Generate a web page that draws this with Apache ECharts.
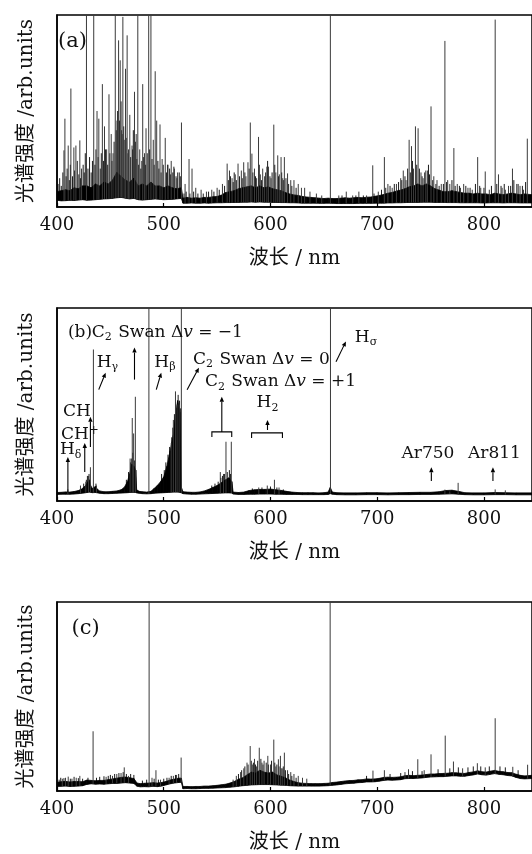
<!DOCTYPE html>
<html>
<head>
<meta charset="utf-8">
<script src="https://cdn.jsdelivr.net/npm/echarts@6/dist/echarts.min.js"></script>
<style>html,body{margin:0;padding:0;background:#fff}#main{width:532px;height:854px}</style>
</head>
<body>
<div id="main"></div>
<script>
// continuum band of each spectrum: [wavelength nm, lower edge, upper edge] (arb. units, 0-100 = frame)
var specA = [[400,3.5,8],[404,3.2,8.5],[408,3.3,9],[412,3.5,8.5],[416,3.4,10],[420,3.6,9.5],[424,3.8,11],[428,3.5,11],[432,3.6,10],[436,3.8,12],[440,4.0,11],[444,4.2,13],[448,4.3,12],[452,4.5,14],[456,4.8,18],[460,5.0,16],[464,4.6,14],[468,4.2,13],[472,4.5,15],[476,3.8,11],[480,3.6,12],[484,3.8,11],[488,4.0,13],[492,4.2,11],[496,4.0,11],[500,3.8,10],[504,3.9,11],[508,4.0,10],[512,4.2,9.5],[516.5,4.5,10],[518,2.0,4.6],[522,2.0,5],[526,2.1,4.6],[530,2.0,4.8],[534,2.0,4.6],[538,2.1,5],[542,2.0,5],[546,2.1,5.3],[550,2.2,5.5],[554,2.2,6.2],[558,2.3,7.5],[562,2.3,8],[566,2.4,8.5],[570,2.4,9.5],[574,2.5,10],[578,2.5,10.5],[582,2.6,11],[586,2.5,10],[590,2.6,11],[594,2.5,10],[598,2.5,10.5],[602,2.4,9.5],[606,2.4,9],[610,2.3,8.5],[614,2.3,7.5],[618,2.2,6.8],[622,2.2,6.3],[626,2.1,6],[630,2.0,5.5],[634,2.0,5.2],[638,2.0,5],[642,2.0,4.8],[646,1.9,4.6],[650,1.9,4.4],[654,2.0,4.6],[658,1.9,4.4],[662,1.8,4.4],[666,1.8,4.6],[670,1.8,4.8],[674,1.8,4.6],[678,1.8,4.8],[682,1.9,5],[686,1.9,4.8],[690,1.9,5.1],[694,1.9,5.2],[698,2.0,5.6],[702,2.0,6],[706,2.0,6.5],[710,2.1,7.2],[714,2.1,7.6],[718,2.2,8.3],[722,2.2,8.8],[726,2.3,9.5],[730,2.4,10.5],[734,2.4,11],[738,2.4,12],[742,2.5,11],[746,2.5,12],[750,2.5,11],[754,2.4,9.5],[758,2.4,8.8],[762,2.4,8],[766,2.3,8],[770,2.3,8.5],[774,2.3,8],[778,2.2,7.6],[782,2.2,7.2],[786,2.2,7.2],[790,2.2,6.8],[794,2.2,7.2],[798,2.1,6.8],[802,2.1,6.8],[806,2.2,6.4],[810,2.2,7.2],[814,2.2,6.8],[818,2.1,6.4],[822,2.2,6.8],[826,2.2,7.2],[830,2.2,6.8],[834,2.1,6.4],[838,2.1,6.8],[845,2.1,6.4]];
var specB = [[400,3.4,4.4],[404,3.5,4.5],[408,3.5,4.7],[412,3.5,4.6],[416,3.6,4.9],[420,3.8,5.4],[423,4.0,6.2],[426,4.2,7.5],[428,4.4,9],[430,4.6,11],[431.5,4.5,8],[433,4.3,6.5],[436,4.4,7.5],[438,4.2,6],[440,4.0,5.2],[444,3.8,4.8],[448,3.8,4.8],[452,3.9,5],[456,4.0,5.2],[460,4.1,5.8],[463,4.2,7],[466,4.3,10],[468,4.4,14],[470,4.5,19],[472,4.5,18],[473.8,4.4,16],[474.6,4.2,5.8],[477,4.0,5],[480,3.8,4.8],[484,3.7,4.6],[488,3.8,5],[491,4.0,6.5],[494,4.1,8],[497,4.2,10],[500,4.3,12.5],[503,4.4,18],[506,4.5,26],[509,4.6,34],[511,4.6,44],[513,4.6,52],[515,4.5,46],[516.6,4.2,7],[518,3.8,4.8],[522,3.6,4.6],[526,3.5,4.5],[530,3.5,4.5],[534,3.6,4.7],[538,3.7,5.2],[542,3.8,6],[546,3.9,7],[550,4.0,8],[554,4.1,9.5],[558,4.2,11],[561,4.2,12],[563.8,4.1,10],[565,3.6,4.6],[570,3.4,4.4],[575,3.4,4.6],[580,3.5,5.4],[585,3.5,5.8],[590,3.6,6],[595,3.6,6],[600,3.6,6.2],[605,3.5,5.8],[610,3.5,5.5],[615,3.4,5],[620,3.4,4.6],[625,3.4,4.4],[630,3.3,4.3],[635,3.3,4.3],[640,3.3,4.3],[645,3.3,4.2],[650,3.3,4.3],[654,3.4,4.6],[656,3.8,7],[658,3.5,4.6],[662,3.3,4.3],[670,3.2,4.2],[680,3.2,4.2],[690,3.3,4.3],[700,3.3,4.3],[710,3.2,4.2],[720,3.3,4.3],[730,3.3,4.4],[740,3.4,4.5],[750,3.4,4.5],[758,3.5,4.8],[764,3.6,5.4],[770,3.7,5.6],[776,3.5,5],[782,3.3,4.3],[790,3.2,4.2],[800,3.2,4.2],[810,3.3,4.4],[820,3.3,4.3],[830,3.2,4.2],[845,3.2,4.2]];
var specC = [[400,2.4,4.6],[404,2.5,4.9],[408,2.6,5.1],[412,2.4,4.8],[416,2.5,5],[420,2.6,5],[424,2.8,4.9],[428,3.5,5.8],[432,3.8,5.6],[436,3.6,5.4],[440,3.7,5.6],[444,3.6,5.6],[448,3.8,6],[452,4.0,6.4],[456,4.0,6.8],[460,4.2,7.2],[464,4.4,7.4],[468,4.2,7],[472,4.0,6.6],[475,2.5,4.2],[478,2.2,3.9],[482,2.3,4.1],[486,2.2,4.2],[490,2.5,4.4],[494,2.3,4.2],[498,2.6,4.5],[502,3.2,5],[506,3.8,5.8],[510,4.2,6.3],[514,4.5,6.8],[516.5,4.6,6.8],[518,1.2,2.4],[522,1.3,2.4],[526,1.2,2.3],[530,1.2,2.4],[534,1.3,2.4],[538,1.4,2.6],[542,1.4,2.6],[546,1.5,2.8],[550,1.6,3],[554,1.7,3.3],[558,1.8,3.6],[562,2.0,4.2],[566,2.2,5],[570,2.5,6.2],[574,2.8,7],[578,3.0,8.5],[582,3.2,10],[586,3.3,9.5],[590,3.4,11],[594,3.4,10],[598,3.4,9.5],[602,3.3,10],[606,3.2,8.5],[610,3.1,7.8],[614,3.0,7],[618,2.8,5.8],[622,2.7,5],[626,2.6,4.4],[630,2.6,4.1],[634,2.6,4],[638,2.6,3.9],[642,2.6,3.9],[646,2.6,3.9],[650,2.7,4],[654,2.8,4.1],[658,3.0,4.5],[662,3.2,4.7],[666,3.5,5],[670,3.8,5.3],[674,4.0,5.5],[678,4.1,5.6],[682,4.4,5.9],[686,4.5,6],[690,4.8,6.4],[694,4.8,6.3],[698,4.9,6.4],[702,5.2,6.7],[706,5.6,7.2],[710,5.8,7.3],[714,5.7,7.2],[718,5.8,7.3],[722,6.0,7.5],[726,6.5,8.1],[730,6.6,8.3],[734,6.6,8.1],[738,6.8,8.3],[742,6.9,8.4],[746,7.2,8.7],[750,7.4,9],[754,7.5,9],[758,7.6,9.2],[762,7.6,9.3],[766,7.8,9.4],[770,8.0,9.7],[774,8.0,9.6],[778,7.8,9.4],[782,7.8,9.3],[786,8.2,9.8],[790,8.5,10.1],[794,9.0,10.7],[798,8.6,10.2],[802,8.4,10],[806,8.8,10.5],[810,9.2,10.9],[814,8.8,10.4],[818,8.6,10.2],[822,8.2,9.8],[826,8.0,9.7],[830,7.2,8.9],[834,6.6,8.3],[838,6.4,8],[845,6.6,8.3]];

// emission lines: [wavelength nm, peak height] (values above 100 run off the frame)
var linesA = [[406.5,29.5],[407.4,46],[410.5,32],[413,61.7],[415.8,31],[417.7,32],[421.4,34.7],[423,20],[427.6,130],[434.4,130],[437.5,50],[439.2,46],[442.5,64],[444.5,42],[446.5,30],[448.7,58.7],[450.8,38],[452.5,28],[454.6,130],[456.2,45],[457.7,86.8],[459.2,76.4],[460.5,40],[461.7,99],[463,35],[464.2,72],[465.7,89.4],[467,30],[468.2,48],[470.3,32],[472.6,60],[474.2,38],[475.7,130],[477.5,30],[480.3,64],[482,28],[483.4,41],[485.9,130],[488,130],[490.2,35],[492,70.7],[493.4,45],[496.5,43],[498.5,25],[501.4,36],[504,22],[507,24],[510,20],[513,18],[516.6,44],[520,12],[523.7,25],[526.5,20],[530,10],[535,9],[540,8],[545,9],[550,10],[555,12],[559.4,22.6],[561.6,19],[564,15],[567,17],[569.6,22.6],[572.7,19],[574.9,23.3],[577,16],[578.9,23.3],[581.1,44],[582.6,27.8],[585,20],[587,15],[588.8,36.5],[590.5,17],[592.7,20],[594.5,16],[596.6,21],[598.1,21],[600.5,15],[603.1,42.9],[605,18],[606.8,26.9],[608.3,17],[609.9,26],[611.5,15],[613,26],[616,17.5],[619,14],[622,14],[626,12],[629,10],[632,10],[637,8],[643,7],[648,6],[656.1,130],[664,6],[671,8],[677,6],[682.8,8],[690,6],[695.8,21.7],[701,8],[706.7,26],[710,12],[714,10],[718,12],[722,15],[724.4,19],[727,14],[729.9,35],[732.1,31.7],[734,20],[735.8,42],[738.3,41],[741,18],[743,15],[745.5,19],[747,19],[750.4,52.4],[753,16],[756,14],[760,12],[763.4,86.5],[766,14],[768,12],[771.8,30.7],[775,12],[778,10],[781,12],[785,10],[789,9],[794.1,26],[797,10],[801.2,18.5],[805,9],[810.5,97.6],[813.6,17],[817,10],[820,9],[823,11],[826.7,20],[830.7,12],[833.8,11],[837,9],[840.6,35.6]];
var linesB = [[410.2,6],[422,8],[427,10],[429.5,13],[431.3,17.5],[434.1,78.5],[437,8],[468.5,22],[470.5,43],[471.8,35],[473.4,54],[486.1,130],[507,30],[509,42],[511,56.8],[512.5,50],[514.4,50],[516.5,130],[553,15],[556,14],[558.3,30.7],[563.3,30.7],[589,7],[597,8],[603.7,11],[608,7],[656.2,130],[763.4,5.9],[768,5],[775.8,9.4],[810.5,6],[820,5.5]];
var linesC = [[405,6.5],[408,7],[410.5,7.6],[414,6.5],[418,7],[421.4,8],[433.8,31.6],[446,7.5],[452,8],[456,9],[460,9.5],[463,12.5],[467,8],[486.3,130],[489,7],[492.7,11],[497,6],[505,7],[509,8],[512,8.5],[516.3,17.7],[565,6],[568,8],[572,10],[575,12],[578,15],[581,23.8],[583,14],[585,17],[587,13],[589.5,22.9],[592,15],[594,16],[597.5,18.6],[600,14],[603.1,27.2],[605,13],[607.4,16.8],[609.3,18.6],[611,12],[613,20.3],[616,11],[619,10],[622,9],[626,8],[630,7],[634,6.5],[655.9,130],[696,10.8],[706.7,11],[726,10],[729.3,11.5],[738,16.8],[744,11],[750.4,19.4],[763.7,29.3],[771.4,15.6],[780,12],[793.8,14.7],[801.2,12.5],[810.5,38.5],[827,12.8],[840.9,13.9]];

// dense short black spikes of the noise: [wavelength nm, peak height]
var noiseA = [[401,12],[402.5,15],[404,11],[405.5,18],[408.5,16],[409.5,20],[411.5,14],[412.5,22],[414.5,16],[416.5,19],[419,24],[420.5,17],[422,15],[424.5,22],[425.5,18],[426.5,28],[429,20],[430.5,26],[432,18],[433.2,24],[435.5,22],[436.5,30],[438.5,26],[440.5,20],[441.5,28],[443.5,24],[445.5,30],[447.5,22],[449.5,28],[451.5,24],[453.5,34],[455.5,40],[456.8,50],[458.5,45],[460,55],[461,38],[462.5,42],[464.8,36],[466.5,28],[469,26],[470.8,30],[471.5,40],[473.4,34],[474.8,25],[476.5,22],[478.5,20],[479.5,24],[481.2,26],[483,22],[484.5,28],[486.8,30],[489,25],[491,22],[494.5,24],[495.5,20],[497.5,18],[499.5,22],[502.5,18],[503.5,22],[505.5,20],[506.5,17],[508.5,18],[509.5,21],[511.5,16],[512.5,15],[514.5,18],[515.5,16],[519,7],[521,8],[524.5,7],[528,8],[532,7],[537,7],[542,8],[547,8],[552,9],[557,11],[560.5,14],[562.5,16],[565,13],[566,18],[568,14],[571,16],[573.5,15],[576,18],[580,20],[583.5,18],[586,16],[589.5,22],[591.5,14],[595.5,18],[597.3,24],[599.5,16],[601.5,18],[604,22],[607.5,16],[610.5,18],[612,14],[614.5,15],[617,12],[620,11],[624,10],[667,6],[680,6],[687,6],[697,7],[704,9],[708,10],[712,11],[716,12],[720,13],[723,14],[726,16],[728.5,20],[731,18],[733,24],[737,22],[739.5,20],[742,16],[744.5,18],[748,22],[749,17],[752,14],[755,12],[758,11],[762,12],[765,13],[770,14],[773,11],[777,11],[783,11],[787,10],[792,12],[796,11],[800,10],[807,11],[812,12],[816,11],[819,12],[825,11],[828,14],[832,12],[836,11],[839,13]];
var noiseB = [[425,9],[427.5,11],[428.5,13],[430,14],[436.5,9],[465,11],[467,15],[469,20],[470,22],[471,25],[472.5,21],[498,14],[500.5,16],[502,20],[504,24],[505.5,28],[507.5,33],[508.5,38],[510,45],[511.8,48],[513.5,55],[514.8,52],[515.8,48],[545,8],[548,9],[551,10],[553.5,12],[555,13],[557,14],[559.5,15],[561.5,16],[562.5,14],[583,6.5],[592,7],[600,7.5],[606,7],[612,6]];
var noiseC = [[402,6],[403.5,7],[406.5,6.8],[412.5,6.5],[416,7.5],[420,6.8],[424,6.5],[429,7],[437,7],[440,7.5],[444,7.8],[448,8],[450,8.5],[454,9],[458,9.5],[462,10],[465,9],[469,9],[472,8.5],[480,5.5],[484,6],[491,6.5],[495,6],[500,6.5],[503,7],[507,8],[511,8.5],[514,9],[570,9],[573,11],[576,13],[579,14],[582,16],[584,15],[586,14],[588,16],[591,17],[593,14],[596,15],[598,14],[601,16],[604,15],[606,14],[608,13],[610,12],[612,13],[614,11],[617,9],[620,8],[624,7],[690,8],[712,9],[722,9.5],[733,10.5],[742,10.5],[757,11.5],[768,12],[776,12.5],[785,12.5],[790,13],[797,13],[805,13],[815,13],[820,12.5],[832,11]];

// annotations: [wavelength, value, text]
var textsA = [[400.9, 86.3, '(a)']];
var textsC = [[413.7, 85.9, '(c)']];
var textsB = [
  [410.2, 87.3, '(b)'],
  [432.6, 87.3, 'C{s|2} Swan Δ{i|v} = −1'],
  [437.2, 71.7, 'H{s|γ}'],
  [491.2, 71.7, 'H{s|β}'],
  [527.4, 73.3, 'C{s|2} Swan Δ{i|v} = 0'],
  [538.6, 61.8, 'C{s|2} Swan Δ{i|v} = +1'],
  [405.6, 46.2, 'CH'],
  [403.7, 34.2, 'CH{u|+}'],
  [402.8, 26.4, 'H{s|δ}'],
  [587.0, 50.9, 'H{s|2}'],
  [679.0, 84.7, 'H{s|σ}'],
  [722.8, 24.8, 'Ar750'],
  [785.1, 24.8, 'Ar811']
];
// arrows: [from wl, from value, to wl, to value]
var arrowsB = [
  [439.1, 57.7, 445.6, 66.5],
  [472.6, 62.9, 472.6, 79.5],
  [493.0, 57.7, 497.7, 66.5],
  [521.9, 57.7, 533.0, 69.1],
  [661.4, 72.2, 670.7, 82.7],
  [410.2, 4.5, 410.2, 22.8],
  [426.0, 15.0, 426.0, 30.0],
  [431.3, 28.0, 431.3, 43.6],
  [554.4, 35.8, 554.4, 54.0],
  [597.2, 36.8, 597.2, 42.0],
  [750.7, 10.3, 750.7, 17.5],
  [808.4, 10.3, 808.4, 17.5]
];
// brackets: [start wl, end wl, value]
var bracketsB = [[545.1, 563.7, 35.8], [582.3, 611.2, 35.3]];

var serif = '"DejaVu Serif", "Noto Sans CJK SC", serif';
var rich = {
  s: {fontSize: 11, fontFamily: serif, verticalAlign: 'bottom', lineHeight: 11, padding: [0, 1, 0, 0], fill: '#111'},
  u: {fontSize: 12, fontFamily: serif, verticalAlign: 'top', lineHeight: 12, fill: '#111'},
  i: {fontSize: 17, fontFamily: serif, fontStyle: 'italic', fill: '#111'}
};

function baseAt(spec, wl) {
  for (var i = 1; i < spec.length; i++) {
    if (spec[i][0] >= wl) {
      var a = spec[i - 1], b = spec[i];
      var t = (wl - a[0]) / (b[0] - a[0]);
      return a[1] + t * (b[1] - a[1]);
    }
  }
  return spec[spec.length - 1][1];
}

function stickSeries(p, spec, data, color, width) {
  return {
    type: 'custom', xAxisIndex: p, yAxisIndex: p, clip: true, silent: true,
    data: data,
    renderItem: function (params, api) {
      var wl = api.value(0);
      var p0 = api.coord([wl, baseAt(spec, wl)]);
      var p1 = api.coord([wl, Math.min(api.value(1), 101)]);
      return {type: 'line', shape: {x1: p0[0], y1: p0[1], x2: p1[0], y2: p1[1]},
        style: {stroke: color, lineWidth: width}};
    }
  };
}

function spectrumSeries(p, spec, lines, noise) {
  return [{
    // continuum band: one filled quad between each pair of neighbouring samples
    type: 'custom', xAxisIndex: p, yAxisIndex: p, clip: true, silent: true,
    dimensions: ['wl', 'lo', 'hi'], encode: {x: 0, y: [1, 2]},
    data: spec,
    renderItem: function (params, api) {
      var i = params.dataIndex;
      if (i >= spec.length - 1) return null;
      var a = spec[i], b = spec[i + 1];
      var pts = [api.coord([a[0], a[1]]), api.coord([b[0], b[1]]), api.coord([b[0], b[2]]), api.coord([a[0], a[2]])];
      return {type: 'polygon', shape: {points: pts}, style: {fill: '#000', stroke: '#000', lineWidth: 0.8}};
    }
  },
  stickSeries(p, spec, noise, '#000', 0.9),
  stickSeries(p, spec, lines, '#3a3a3a', 1)];
}

function textSeries(p, texts, size) {
  return {
    type: 'custom', xAxisIndex: p, yAxisIndex: p, silent: true, z: 5,
    data: texts.map(function (t) { return [t[0], t[1]]; }),
    renderItem: function (params, api) {
      var pt = api.coord([api.value(0), api.value(1)]);
      return {type: 'text', x: pt[0], y: pt[1], style: {
        text: texts[params.dataIndex][2], fill: '#111', fontSize: size, fontFamily: serif,
        lineHeight: size + 4, align: 'left', verticalAlign: 'middle', rich: rich}};
    }
  };
}

var option = {
  animation: false,
  backgroundColor: '#fff',
  grid: [
    {left: 57, right: -3, top: 15, height: 192, show: true, borderColor: '#000', borderWidth: 1.5},
    {left: 57, right: -3, top: 308, height: 193, show: true, borderColor: '#000', borderWidth: 1.5},
    {left: 57, right: -3, top: 602, height: 192, show: true, borderColor: '#000', borderWidth: 1.5}
  ],
  xAxis: [0, 1, 2].map(function (i) {
    return {
      type: 'value', gridIndex: i, min: 400, max: 845, interval: 100,
      axisLine: {show: true, onZero: false, lineStyle: {color: '#000', width: 1.5}},
      axisTick: {show: true, inside: true, length: 4, lineStyle: {color: '#000', width: 1.2}},
      axisLabel: {show: true, showMaxLabel: false, color: '#111', fontFamily: serif, fontSize: 18, margin: 9},
      splitLine: {show: false},
      name: '波长 / nm', nameLocation: 'middle', nameGap: 42,
      nameTextStyle: {color: '#111', fontFamily: serif, fontSize: 20}
    };
  }),
  yAxis: [0, 1, 2].map(function (i) {
    return {
      type: 'value', gridIndex: i, min: 0, max: 100,
      axisLine: {show: true, lineStyle: {color: '#000', width: 1.5}},
      axisTick: {show: false}, axisLabel: {show: false}, splitLine: {show: false},
      name: '光谱强度 /arb.units', nameLocation: 'middle', nameRotate: 90, nameGap: 20,
      nameTextStyle: {color: '#111', fontFamily: serif, fontSize: 20}
    };
  }),
  series: []
};

option.series = option.series
  .concat(spectrumSeries(0, specA, linesA, noiseA))
  .concat(spectrumSeries(1, specB, linesB, noiseB))
  .concat(spectrumSeries(2, specC, linesC, noiseC));
option.series.push(textSeries(0, textsA, 21));
option.series.push(textSeries(1, textsB, 17));
option.series.push(textSeries(2, textsC, 21));

// arrows of panel (b)
option.series.push({
  type: 'custom', xAxisIndex: 1, yAxisIndex: 1, silent: true, z: 5,
  dimensions: ['x0', 'y0', 'x1', 'y1'], encode: {x: [0, 2], y: [1, 3]},
  data: arrowsB,
  renderItem: function (params, api) {
    var a = api.coord([api.value(0), api.value(1)]);
    var b = api.coord([api.value(2), api.value(3)]);
    var dx = b[0] - a[0], dy = b[1] - a[1];
    var len = Math.sqrt(dx * dx + dy * dy);
    var ux = dx / len, uy = dy / len, hl = 5, hw = 2.2;
    var bx = b[0] - ux * hl, by = b[1] - uy * hl;
    return {type: 'group', children: [
      {type: 'line', shape: {x1: a[0], y1: a[1], x2: bx, y2: by}, style: {stroke: '#000', lineWidth: 1.1}},
      {type: 'polygon', shape: {points: [[b[0], b[1]], [bx - uy * hw, by + ux * hw], [bx + uy * hw, by - ux * hw]]},
        style: {fill: '#000'}}
    ]};
  }
});
// brackets of panel (b)
option.series.push({
  type: 'custom', xAxisIndex: 1, yAxisIndex: 1, silent: true, z: 5,
  dimensions: ['x0', 'x1', 'y'], encode: {x: [0, 1], y: 2},
  data: bracketsB,
  renderItem: function (params, api) {
    var v = api.value(2);
    var p0 = api.coord([api.value(0), v - 2.6]);
    var p1 = api.coord([api.value(0), v]);
    var p2 = api.coord([api.value(1), v]);
    var p3 = api.coord([api.value(1), v - 2.6]);
    return {type: 'polyline', shape: {points: [p0, p1, p2, p3]}, style: {stroke: '#000', lineWidth: 1.1, fill: null}};
  }
});

var chart = echarts.init(document.getElementById('main'));
chart.setOption(option);
</script>
</body>
</html>
